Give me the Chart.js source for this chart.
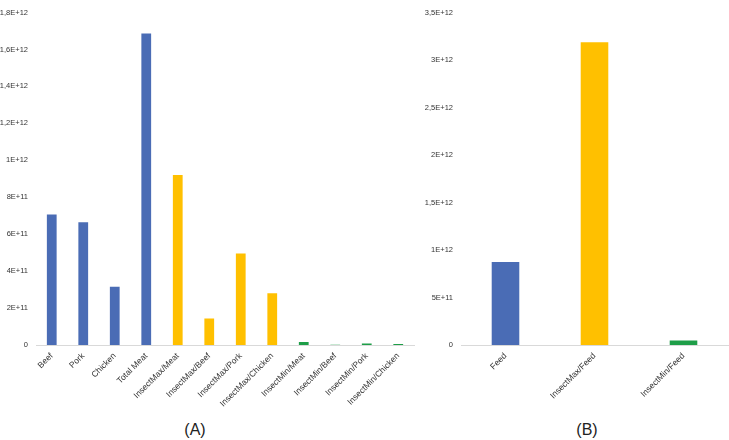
<!DOCTYPE html>
<html>
<head>
<meta charset="utf-8">
<script src="https://cdn.jsdelivr.net/npm/chart.js@4"></script>
<style>
  body { margin: 0; background: #fff; width: 729px; height: 440px; position: relative; overflow: hidden; }
  .box { position: absolute; top: 0; height: 420px; }
  .panel { position: absolute; top: 421px; font-family: "Liberation Sans", Arial, sans-serif; font-size: 16px; color: #222; transform: translateX(-50%); }
</style>
</head>
<body>
<div class="box" style="left:0;width:415px"><canvas id="chartA"></canvas></div>
<div class="box" style="left:420px;width:309px"><canvas id="chartB"></canvas></div>
<div class="panel" style="left:195px">(A)</div>
<div class="panel" style="left:587px">(B)</div>
<script>
const labelsA = ["Beef", "Pork", "Chicken", "Total Meat", "InsectMax/Meat", "InsectMax/Beef",
  "InsectMax/Pork", "InsectMax/Chicken", "InsectMin/Meat", "InsectMin/Beef", "InsectMin/Pork", "InsectMin/Chicken"];
const valuesA = [7.07e11, 6.64e11, 3.15e11, 1.686e12, 9.2e11, 1.44e11,
  4.96e11, 2.8e11, 1.6e10, 2e9, 8e9, 5e9];

const labelsB = ["Feed", "InsectMax/Feed", "InsectMin/Feed"];
const valuesB = [8.73e11, 3.186e12, 4.8e10];

const BLUE = "#4a6cb5";
const GOLD = "#ffc000";
const GREEN = "#1e9e48";

const colorsA = [BLUE, BLUE, BLUE, BLUE, GOLD, GOLD, GOLD, GOLD, GREEN, GREEN, GREEN, GREEN];
const colorsB = [BLUE, GOLD, GREEN];

function sciLabel(v) {
  if (v === 0) return "0";
  const e = Math.floor(Math.log10(v) + 1e-9);
  const m = Math.round(v / Math.pow(10, e) * 10) / 10;
  return String(m).replace(".", ",") + "E+" + e;
}

const yFont = { family: "'Liberation Sans', Arial, sans-serif", size: 7.5 };
const xFont = { family: "'Liberation Sans', Arial, sans-serif", size: 8.5 };

function makeChart(id, labels, values, colors, max, step, yWidth) {
  return new Chart(document.getElementById(id), {
    type: "bar",
    data: {
      labels: labels,
      datasets: [{
        data: values,
        backgroundColor: colors,
        barPercentage: 0.62,
        categoryPercentage: 0.5,
      }],
    },
    options: {
      responsive: true,
      maintainAspectRatio: false,
      animation: false,
      layout: { padding: { top: 4, right: 1, left: 0, bottom: 0 } },
      plugins: { legend: { display: false }, tooltip: { enabled: false } },
      scales: {
        x: {
          grid: { display: false, drawTicks: false },
          border: { display: true, color: "#d9d9d9" },
          ticks: { color: "#333", font: xFont, minRotation: 45, maxRotation: 45, padding: 6 },
          afterFit: (s) => { s.height = 75; },
        },
        y: {
          min: 0,
          max: max,
          grid: { display: false, drawTicks: false },
          border: { display: false },
          ticks: { stepSize: step, color: "#333", font: yFont, padding: 8, callback: (v) => sciLabel(v) },
          afterFit: (s) => { s.width = yWidth; },
        },
      },
    },
  });
}

makeChart("chartA", labelsA, valuesA, colorsA, 1.8e12, 2e11, 36);
makeChart("chartB", labelsB, valuesB, colorsB, 3.5e12, 5e11, 41);
</script>
</body>
</html>
